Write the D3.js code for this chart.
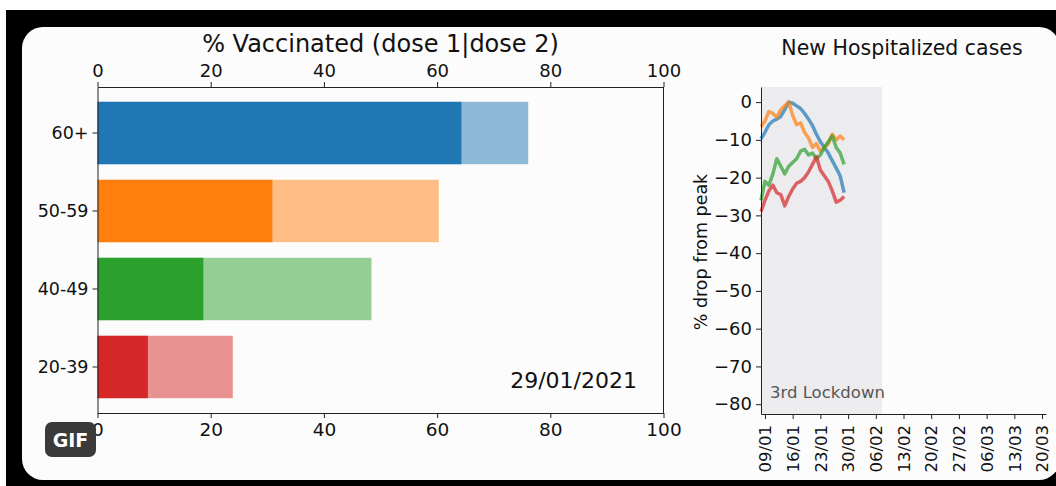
<!DOCTYPE html>
<html>
<head>
<meta charset="utf-8">
<script src="https://cdn.jsdelivr.net/npm/d3@7"></script>
<style>
  html, body { margin: 0; padding: 0; background: #ffffff; }
  svg { display: block; font-family: "DejaVu Sans", sans-serif; }
</style>
</head>
<body>
<svg id="chart" width="1056" height="486"></svg>
<script>
// Vaccination coverage by age group (percent of population)
const ageGroups = ["60+", "50-59", "40-49", "20-39"];
const dose1Pct = [76.1, 60.3, 48.4, 23.9];
const dose2Pct = [64.3, 30.9, 18.7, 8.9];
const pctTicks = [0, 20, 40, 60, 80, 100];
const snapshotDate = "29/01/2021";

// New hospitalized cases, % drop from peak, daily 08/01 .. 29/01
const hospDates = [
  "2021-01-08", "2021-01-09", "2021-01-10", "2021-01-11", "2021-01-12", "2021-01-13",
  "2021-01-14", "2021-01-15", "2021-01-16", "2021-01-17", "2021-01-18", "2021-01-19",
  "2021-01-20", "2021-01-21", "2021-01-22", "2021-01-23", "2021-01-24", "2021-01-25",
  "2021-01-26", "2021-01-27", "2021-01-28", "2021-01-29"
];
const hosp60 =   [-9.7, -8, -6, -5, -4.5, -3.8, -2, 0, -0.3, -1, -1.7, -3, -4.5, -6.2, -8.5, -10.5, -12, -13.5, -15.5, -17.5, -19.5, -24];
const hosp5059 = [-6.5, -5, -2.5, -3, -4, -2, -1, 0, -3.5, -6, -5.5, -8, -9.5, -12, -11, -13, -12, -11, -8.5, -10, -9, -10];
const hosp4049 = [-26, -21, -22, -19, -15, -17, -19, -17, -16, -15, -13, -12.5, -14, -13.5, -15, -14, -12, -10.5, -9, -12, -13.5, -16.5];
const hosp2039 = [-29, -26, -23.5, -22, -24, -24.5, -27.5, -25, -23, -21.5, -21, -20, -18.5, -16.5, -14.5, -18, -19.5, -21, -23.5, -26.5, -26, -25];
const hospTicks = [0, -10, -20, -30, -40, -50, -60, -70, -80];
const dateTicks = ["2021-01-09", "2021-01-16", "2021-01-23", "2021-01-30", "2021-02-06", "2021-02-13",
                   "2021-02-20", "2021-02-27", "2021-03-06", "2021-03-13", "2021-03-20"];
const lockdownEnd = "2021-02-07T14:00";
const dateRange = ["2021-01-08", "2021-03-21"];

const groupColors = ["#1f77b4", "#ff7f0e", "#2ca02c", "#d62728"];

const svg = d3.select("#chart");

// frame and rounded panel
svg.append("rect").attr("x", 6).attr("y", 10).attr("width", 1050).attr("height", 476).attr("fill", "#000");
svg.append("rect").attr("x", 22).attr("y", 27).attr("width", 1038).attr("height", 453)
  .attr("rx", 21).attr("fill", "#fcfcfc");

// ---------- left: horizontal bars ----------
const bx = d3.scaleLinear().domain([0, 100]).range([97.5, 663.5]);
const by = d3.scaleBand().domain(ageGroups).range([87, 413]).paddingInner(0.2).paddingOuter(0.19);

const left = svg.append("g");

left.selectAll("rect.dose1").data(ageGroups).join("rect")
  .attr("class", "dose1")
  .attr("x", bx(0)).attr("y", d => by(d))
  .attr("width", (d, i) => bx(dose1Pct[i]) - bx(0))
  .attr("height", by.bandwidth())
  .attr("fill", (d, i) => groupColors[i]).attr("fill-opacity", 0.5);

left.selectAll("rect.dose2").data(ageGroups).join("rect")
  .attr("class", "dose2")
  .attr("x", bx(0)).attr("y", d => by(d))
  .attr("width", (d, i) => bx(dose2Pct[i]) - bx(0))
  .attr("height", by.bandwidth())
  .attr("fill", (d, i) => groupColors[i]);

function styleAxis(size) {
  return g => {
    g.selectAll("path.domain").attr("stroke", "#222").attr("stroke-width", 1);
    g.selectAll(".tick line").attr("stroke", "#222").attr("stroke-width", 1);
    g.selectAll(".tick text").attr("fill", "#111").style("font-size", size)
      .style("font-family", "DejaVu Sans, sans-serif");
  };
}

left.append("g").attr("transform", "translate(0,87)")
  .call(d3.axisTop(bx).tickValues(pctTicks).tickSize(5).tickSizeOuter(0).tickPadding(5))
  .call(styleAxis("18px"));
left.append("g").attr("transform", "translate(0,413)")
  .call(d3.axisBottom(bx).tickValues(pctTicks).tickSize(5).tickSizeOuter(0).tickPadding(5))
  .call(styleAxis("18.5px"));
left.append("g").attr("transform", "translate(97.5,0)")
  .call(d3.axisLeft(by).tickSize(5).tickSizeOuter(0).tickPadding(4))
  .call(styleAxis("17.5px"));
left.append("line").attr("x1", 663.5).attr("x2", 663.5).attr("y1", 87).attr("y2", 413)
  .attr("stroke", "#222");

left.append("text").attr("x", 380.5).attr("y", 52).attr("text-anchor", "middle")
  .style("font-size", "24px").attr("fill", "#111").text("% Vaccinated (dose 1|dose 2)");

left.append("text").attr("x", 637).attr("y", 388).attr("text-anchor", "end")
  .style("font-size", "22px").attr("fill", "#111").text(snapshotDate);

// ---------- right: hospitalization trend ----------
const parse = d3.isoParse;
const hx = d3.scaleTime().domain(dateRange.map(parse)).range([761, 1046]);
const hy = d3.scaleLinear().domain([-82.6, 4]).range([414, 87]);

const right = svg.append("g");

right.append("rect")
  .attr("x", hx(parse(dateRange[0]))).attr("y", 87)
  .attr("width", hx(parse(lockdownEnd)) - hx(parse(dateRange[0])))
  .attr("height", 414 - 87)
  .attr("fill", "#ececef");

right.append("text").attr("x", 770).attr("y", 398)
  .style("font-size", "16.5px").attr("fill", "#555").text("3rd Lockdown");

const series = [hosp60, hosp5059, hosp4049, hosp2039];
const line = d3.line().x((d, i) => hx(parse(hospDates[i]))).y(d => hy(d));

right.selectAll("path.trend").data(series).join("path")
  .attr("class", "trend")
  .attr("d", d => line(d))
  .attr("fill", "none")
  .attr("stroke", (d, i) => groupColors[i])
  .attr("stroke-opacity", 0.7)
  .attr("stroke-width", 3.5)
  .attr("stroke-linejoin", "round");

right.append("g").attr("transform", "translate(761,0)")
  .call(d3.axisLeft(hy).tickValues(hospTicks).tickSize(5).tickSizeOuter(0).tickPadding(4))
  .call(styleAxis("18px"));

right.append("g").attr("transform", "translate(0,414)")
  .call(d3.axisBottom(hx).tickValues(dateTicks.map(parse)).tickFormat(d3.timeFormat("%d/%m"))
    .tickSize(5).tickSizeOuter(0))
  .call(styleAxis("16.5px"))
  .call(g => g.selectAll(".tick text")
    .attr("transform", "rotate(-90)")
    .attr("x", -11).attr("y", 0).attr("dy", "0.35em")
    .attr("text-anchor", "end"));

right.append("text")
  .attr("transform", "translate(707,252) rotate(-90)")
  .attr("text-anchor", "middle")
  .style("font-size", "17.5px").attr("fill", "#111").text("% drop from peak");

right.append("text").attr("x", 902).attr("y", 55).attr("text-anchor", "middle")
  .style("font-size", "20.5px").attr("fill", "#111").text("New Hospitalized cases");

// animated-image badge
const badge = svg.append("g");
badge.append("rect").attr("x", 45).attr("y", 422).attr("width", 51).attr("height", 35)
  .attr("rx", 7).attr("fill", "#3a3a3a");
badge.append("text").attr("x", 70.5).attr("y", 446.5).attr("text-anchor", "middle")
  .style("font-size", "19px").style("font-weight", "bold").attr("fill", "#fff").text("GIF");
</script>
</body>
</html>
